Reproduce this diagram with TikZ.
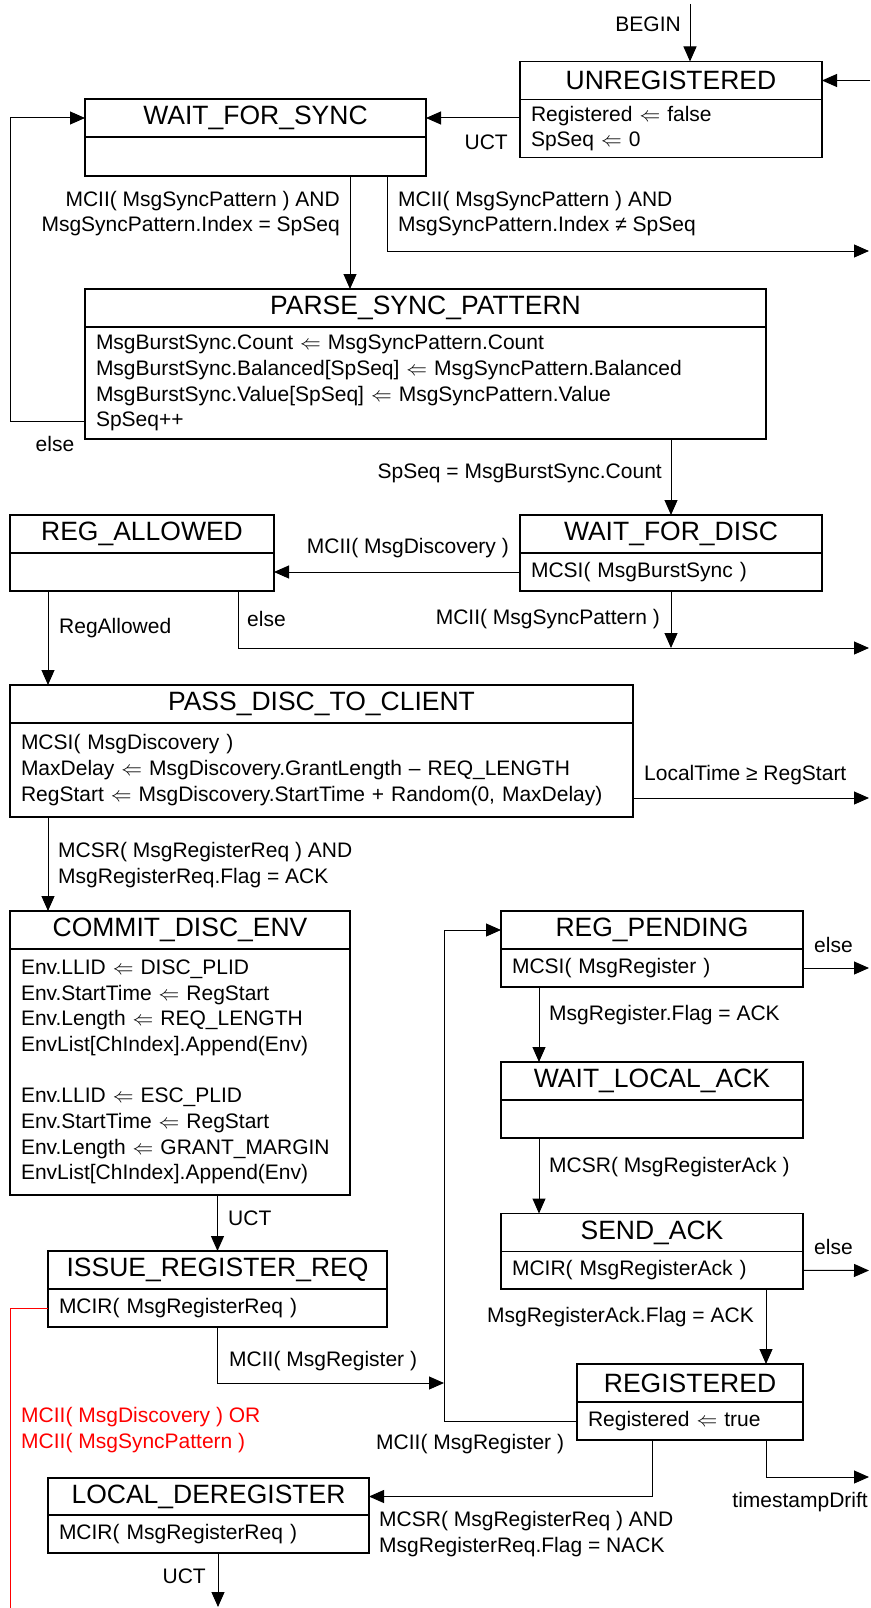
\documentclass[tikz,border=0pt]{standalone}
\usepackage{fontspec}
\setmainfont{Liberation Sans}
\usetikzlibrary{arrows.meta,positioning}
\newcommand\bodyfont{\fontsize{21}{25.8}\selectfont}
\newcommand\titlefont{\fontsize{26.5}{30}\selectfont}
\newcommand\lar{{\fontsize{22}{22}\selectfont$\Leftarrow$}}
\begin{document}
\begin{tikzpicture}[x=1pt,y=-1pt]

	\tikzset{sttitle/.style = {draw, line width=1.5pt, outer sep=0pt, inner sep=0pt, minimum height=38pt, font=\titlefont}}
	\tikzset{stbody/.style = {draw, line width=1.5pt, outer sep=0pt, inner xsep=11pt, inner ysep=0pt, align=left, font=\bodyfont}}
	\tikzset{edge/.style = {> = {Triangle[length=15pt,width=13pt]}, ->, line width=1pt}}
	\tikzset{lbl/.style = {inner sep=0pt, font=\bodyfont}}
	\useasboundingbox (0,0) rectangle (870,1608);

	% states
	\node[sttitle, minimum width=302pt] (unreg) at (671,80.5) {UNREGISTERED};
	\node[stbody, text width=280pt, minimum height=58pt, below=0pt of unreg] (unregb) {Registered \lar{} false\\SpSeq \lar{} 0};

	\node[sttitle, minimum width=341pt] (wfs) at (255.5,118) {WAIT\_FOR\_SYNC};
	\node[stbody, text width=319pt, minimum height=39pt, below=0pt of wfs] (wfsb) {};

	\node[sttitle, minimum width=681pt] (parse) at (425.5,308) {PARSE\_SYNC\_PATTERN};
	\node[stbody, text width=659pt, minimum height=112pt, below=0pt of parse] (parseb) {MsgBurstSync.Count \lar{} MsgSyncPattern.Count\\MsgBurstSync.Balanced[SpSeq] \lar{} MsgSyncPattern.Balanced\\MsgBurstSync.Value[SpSeq] \lar{} MsgSyncPattern.Value\\SpSeq++};

	\node[sttitle, minimum width=264pt] (regall) at (142,534) {REG\_ALLOWED};
	\node[stbody, text width=242pt, minimum height=38pt, below=0pt of regall] (regallb) {};

	\node[sttitle, minimum width=302pt] (wfd) at (671,534) {WAIT\_FOR\_DISC};
	\node[stbody, text width=280pt, minimum height=38pt, below=0pt of wfd] (wfdb) {MCSI( MsgBurstSync )};

	\node[sttitle, minimum width=623pt] (pass) at (321.5,704) {PASS\_DISC\_TO\_CLIENT};
	\node[stbody, text width=601pt, minimum height=94pt, below=0pt of pass] (passb) {MCSI( MsgDiscovery )\\MaxDelay \lar{} MsgDiscovery.GrantLength – REQ\_LENGTH\\RegStart \lar{} MsgDiscovery.StartTime + Random(0, MaxDelay)};

	\node[sttitle, minimum width=340pt] (commit) at (180,930) {COMMIT\_DISC\_ENV};
	\node[stbody, text width=318pt, minimum height=246pt, below=0pt of commit] (commitb) {Env.LLID \lar{} DISC\_PLID\\Env.StartTime \lar{} RegStart\\Env.Length \lar{} REQ\_LENGTH\\EnvList[ChIndex].Append(Env)\\[25pt]Env.LLID \lar{} ESC\_PLID\\Env.StartTime \lar{} RegStart\\Env.Length \lar{} GRANT\_MARGIN\\EnvList[ChIndex].Append(Env)};

	\node[sttitle, minimum width=302pt] (regpend) at (652,930) {REG\_PENDING};
	\node[stbody, text width=280pt, minimum height=38pt, below=0pt of regpend] (regpendb) {MCSI( MsgRegister )};

	\node[sttitle, minimum width=302pt] (wla) at (652,1081) {WAIT\_LOCAL\_ACK};
	\node[stbody, text width=280pt, minimum height=38pt, below=0pt of wla] (wlab) {};

	\node[sttitle, minimum width=302pt] (sendack) at (652,1232.5) {SEND\_ACK};
	\node[stbody, text width=280pt, minimum height=37.5pt, below=0pt of sendack] (sendackb) {MCIR( MsgRegisterAck )};

	\node[sttitle, minimum width=339pt] (issue) at (217.5,1270) {ISSUE\_REGISTER\_REQ};
	\node[stbody, text width=317pt, minimum height=38pt, below=0pt of issue] (issueb) {MCIR( MsgRegisterReq )};

	\node[sttitle, minimum width=226pt] (reg) at (690,1383) {REGISTERED};
	\node[stbody, text width=204pt, minimum height=38pt, below=0pt of reg] (regb) {Registered \lar{} true};

	\node[sttitle, minimum width=321pt, minimum height=37pt] (ldereg) at (208.5,1496.5) {LOCAL\_DEREGISTER};
	\node[stbody, text width=299pt, minimum height=38pt, below=0pt of ldereg] (lderegb) {MCIR( MsgRegisterReq )};

	% free ends and turning points
	\coordinate (begin) at (690,4);
	\coordinate (retunreg) at (870,80.5);
	\coordinate (loopl) at (10,421);
	\coordinate (xmatch) at (350,0);
	\coordinate (xmis) at (387,0);
	\coordinate (exitmis) at (869,251);
	\coordinate (exitdisc) at (869,648);
	\coordinate (xelse) at (238,0);
	\coordinate (xallow) at (48,0);
	\coordinate (exittime) at (869,798);
	\coordinate (xloop) at (444,0);
	\coordinate (loopin) at (444,1383);
	\coordinate (exitpend) at (869,968);
	\coordinate (xack) at (539,0);
	\coordinate (exitsend) at (869,1270.5);
	\coordinate (xreg) at (766,0);
	\coordinate (xdereg) at (652,0);
	\coordinate (exitdrift) at (869,1477);
	\coordinate (exituct) at (218,1607);
	\coordinate (redend) at (10,1608);

	% transitions
	\draw[edge] (begin) -- (begin |- unreg.north);
	\draw[edge] (retunreg) -- (unreg.east);
	\draw[edge] (unregb.west |- wfs.east) -- (wfs.east);
	\draw[edge] (parseb.west |- loopl) -- (loopl) |- (wfs.west);
	\draw[edge] (wfsb.south -| xmatch) -- (parse.north -| xmatch);
	\draw[edge] (wfsb.south -| xmis) |- (exitmis);
	\draw[edge] (parseb.south -| wfd.north) -- (wfd.north);
	\draw[edge] (wfdb.west) -- (regallb.east);
	\draw[edge] (wfdb.south) -- (wfdb.south |- exitdisc);
	\draw[edge] (regallb.south -| xelse) |- (exitdisc);
	\draw[edge] (regallb.south -| xallow) -- (pass.north -| xallow);
	\draw[edge] (passb.east |- exittime) -- (exittime);
	\draw[edge] (passb.south -| xallow) -- (commit.north -| xallow);
	\draw[edge] (commitb.south -| issue.north) -- (issue.north);
	\draw[edge] (issueb.south) |- (loopin);
	\draw[edge] (regb.west) -- (regb.west -| xloop) |- (regpend.west);
	\draw[edge] (regpendb.east) -- (exitpend);
	\draw[edge] (regpendb.south -| xack) -- (wla.north -| xack);
	\draw[edge] (wlab.south -| xack) -- (sendack.north -| xack);
	\draw[edge] (sendackb.east) -- (exitsend);
	\draw[edge] (sendackb.south -| xreg) -- (reg.north -| xreg);
	\draw[edge] (regb.south -| xdereg) |- (ldereg.east);
	\draw[edge] (regb.south -| xreg) |- (exitdrift);
	\draw[edge] (lderegb.south -| exituct) -- (exituct);
	\draw[red, line width=1pt] (issueb.west) -| (redend);

	% guards
	\node[lbl, anchor=east] (lbegin) at (681,24) {BEGIN};
	\node[lbl, anchor=east] (luct) at (508,142) {UCT};
	\node[lbl, anchor=east, align=right] (lmatch) at (340,213.5) {MCII( MsgSyncPattern ) AND\\MsgSyncPattern.Index = SpSeq};
	\node[lbl, anchor=west, align=left] (lmis) at (398,213.5) {MCII( MsgSyncPattern ) AND\\MsgSyncPattern.Index ≠ SpSeq};
	\node[lbl] (lelse) at (55,444) {else};
	\node[lbl, anchor=east] (lcount) at (662,473) {SpSeq = MsgBurstSync.Count};
	\node[lbl, anchor=east] (ldisc) at (509,548) {MCII( MsgDiscovery )};
	\node[lbl, anchor=east] (lsync) at (660,619) {MCII( MsgSyncPattern )};
	\node[lbl, anchor=west] (lelseb) at (247,619) {else};
	\node[lbl, anchor=west] (lallow) at (59,628) {RegAllowed};
	\node[lbl, anchor=west] (ltime) at (644,775) {LocalTime ≥ RegStart};
	\node[lbl, anchor=west, align=left] (lreq) at (58,865) {MCSR( MsgRegisterReq ) AND\\MsgRegisterReq.Flag = ACK};
	\node[lbl, anchor=west] (lelsec) at (814,945) {else};
	\node[lbl, anchor=west] (lflag) at (549,1015) {MsgRegister.Flag = ACK};
	\node[lbl, anchor=west] (lack) at (549,1167) {MCSR( MsgRegisterAck )};
	\node[lbl, anchor=west] (luctb) at (228,1218) {UCT};
	\node[lbl, anchor=west] (lelsed) at (814,1247) {else};
	\node[lbl, anchor=east] (lackflag) at (754,1317) {MsgRegisterAck.Flag = ACK};
	\node[lbl, anchor=west] (lreg) at (229,1361) {MCII( MsgRegister )};
	\node[lbl, anchor=west, align=left, text=red] (lred) at (21,1430) {MCII( MsgDiscovery ) OR\\MCII( MsgSyncPattern )};
	\node[lbl, anchor=west] (lregb) at (376,1444) {MCII( MsgRegister )};
	\node[lbl, anchor=east] (ldrift) at (868,1502) {timestampDrift};
	\node[lbl, anchor=west, align=left] (lnack) at (379,1534) {MCSR( MsgRegisterReq ) AND\\MsgRegisterReq.Flag = NACK};
	\node[lbl, anchor=east] (luctc) at (206,1576) {UCT};

\end{tikzpicture}
\end{document}
